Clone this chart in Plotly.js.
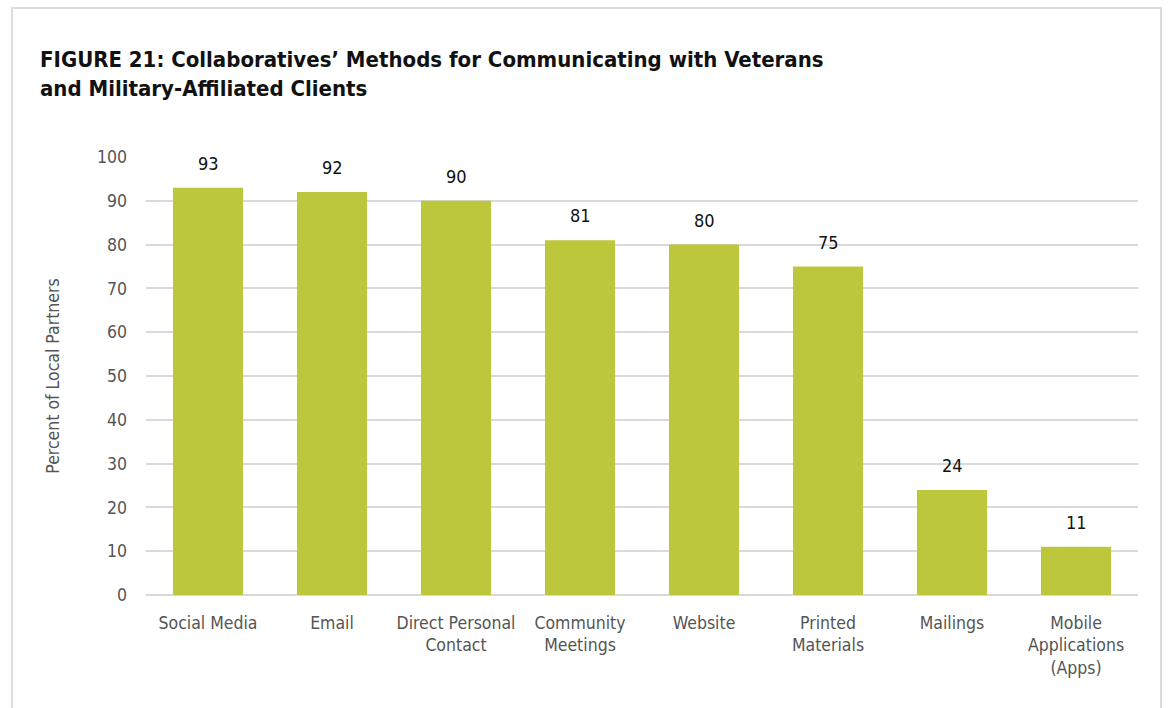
<!DOCTYPE html>
<html>
<head>
<meta charset="utf-8">
<script src="https://cdn.plot.ly/plotly-3.0.1.min.js"></script>
<style>
html,body{margin:0;padding:0;background:#fff;overflow:hidden;}
#frame{position:absolute;left:11px;top:7px;width:1151px;height:760px;border:2px solid #dcdcdc;box-sizing:border-box;}
#chart{position:absolute;left:0;top:0;width:1170px;height:708px;}
</style>
</head>
<body>
<div id="frame"></div>
<div id="chart"></div>
<script>
const categories = ["Social Media","Email","Direct Personal<br>Contact","Community<br>Meetings","Website","Printed<br>Materials","Mailings","Mobile<br>Applications<br>(Apps)"];
const values = [93,92,90,81,80,75,24,11];
const yTicks = [0,10,20,30,40,50,60,70,80,90,100];

const FONT = '"DejaVu Sans Condensed", "DejaVu Sans", sans-serif';

const trace = {
  type: 'bar',
  x: categories,
  y: values,
  marker: {color: '#bdc73b'},
  hoverinfo: 'x+y'
};

const annotations = categories.map((c, i) => ({
  x: c, y: values[i], xref: 'x', yref: 'y',
  text: String(values[i]),
  showarrow: false,
  yanchor: 'bottom',
  yshift: 12,
  font: {family: FONT, size: 18, color: '#111'}
}));

const layout = {
  width: 1170, height: 708,
  paper_bgcolor: 'rgba(0,0,0,0)',
  plot_bgcolor: 'rgba(0,0,0,0)',
  margin: {l: 146, r: 32, t: 157, b: 113},
  bargap: 0.435,
  showlegend: false,
  title: {
    text: 'FIGURE 21: Collaboratives\u2019 Methods for Communicating with Veterans<br>and Military-Affiliated Clients',
    xref: 'container', yref: 'container',
    x: 40/1170, xanchor: 'left',
    y: 1 - 67/708, yanchor: 'top',
    font: {family: FONT, size: 22, color: '#111', weight: 'bold'}
  },
  xaxis: {
    type: 'category',
    tickfont: {family: FONT, size: 17.5, color: '#555'},
    showgrid: false,
    showline: false,
    ticks: '',
    ticklabelstandoff: 15
  },
  yaxis: {
    range: [0, 100],
    tickvals: yTicks,
    tickfont: {family: FONT, size: 17.5, color: '#555'},
    showgrid: true,
    gridcolor: '#d9d9d9',
    gridwidth: 2,
    zeroline: true,
    zerolinecolor: '#d9d9d9',
    zerolinewidth: 2,
    ticks: '',
    ticklabelstandoff: 18,
    title: {
      text: 'Percent of Local Partners',
      font: {family: FONT, size: 17.5, color: '#555'},
      standoff: 32
    }
  },
  annotations: annotations
};

Plotly.newPlot('chart', [trace], layout, {displayModeBar: false, staticPlot: true});
</script>
</body>
</html>
